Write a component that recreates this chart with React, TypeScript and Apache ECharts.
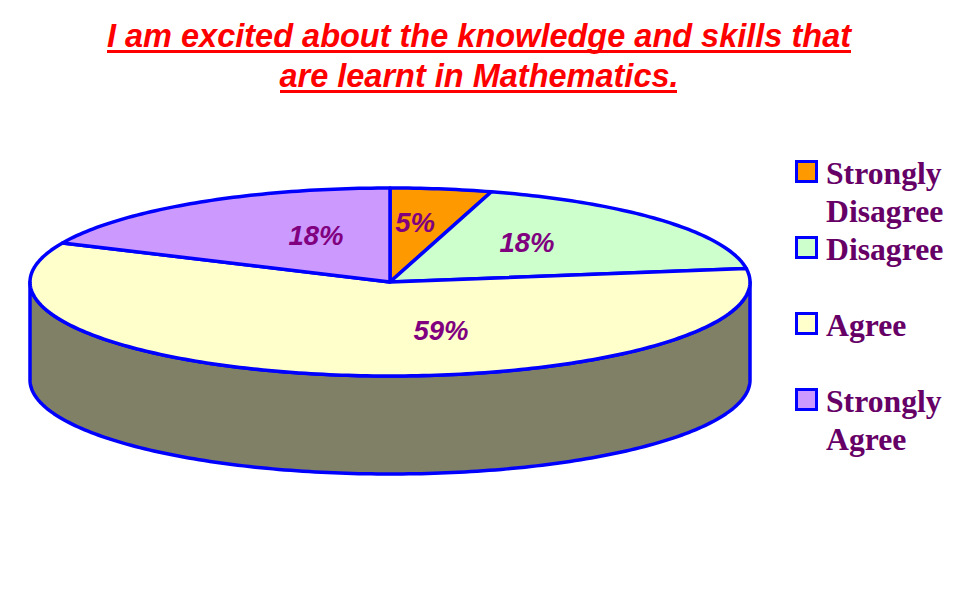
import React, { useEffect, useRef } from "react";
import * as echarts from "echarts";

const titleText = "I am excited about the knowledge and skills that\nare learnt in Mathematics.";
const categories = ["Strongly\nDisagree", "Disagree", "Agree", "Strongly\nAgree"];
const counts = [1, 4, 13, 4];
const percentLabels = ["5%", "18%", "59%", "18%"];
const sliceColors = ["#FF9900", "#CCFFCC", "#FFFFCC", "#CC99FF"];
const sideColors = ["#804D00", "#668066", "#808066", "#664D80"];

const CX = 390, CY = 282, RX = 360, RY = 94, DEPTH = 98;
const BLUE = "#0000FF";
const total = counts.reduce((a, b) => a + b, 0);
const starts = counts.map((_, i) => counts.slice(0, i).reduce((a, b) => a + b, 0) / total);
const labelOffsets = [[25, -60], [137, -40], [51, 48], [-74, -47]];

const pt = (f: number, dy = 0) => {
  const t = f * Math.PI * 2;
  return [CX + RX * Math.sin(t), CY - RY * Math.cos(t) + dy];
};
const arc = (a: number, b: number, dy = 0) => {
  const out: number[][] = [];
  const n = Math.max(2, Math.ceil((b - a) * 360));
  for (let i = 0; i <= n; i++) out.push(pt(a + ((b - a) * i) / n, dy));
  return out;
};

const renderSide = (_: any, api: any) => {
  const i = api.value(0) as number;
  const a = Math.max(starts[i], 0.25);
  const b = Math.min(starts[i] + counts[i] / total, 0.75);
  if (b <= a) return { type: "group", children: [] };
  return {
    type: "polygon",
    shape: { points: [...arc(a, b), ...arc(a, b, DEPTH).reverse()] },
    style: { fill: sideColors[i], stroke: BLUE, lineWidth: 3.5, lineJoin: "round" },
  };
};

const renderTop = (_: any, api: any) => {
  const i = api.value(0) as number;
  const a = starts[i];
  const b = a + (api.value(1) as number) / total;
  return {
    type: "polygon",
    shape: { points: [[CX, CY], ...arc(a, b)] },
    style: { fill: sliceColors[i], stroke: BLUE, lineWidth: 3.5, lineJoin: "round" },
  };
};

const renderLabel = (_: any, api: any) => {
  const i = api.value(0) as number;
  return {
    type: "text",
    x: CX + labelOffsets[i][0],
    y: CY + labelOffsets[i][1],
    style: {
      text: percentLabels[i],
      fill: "#800080",
      font: "italic bold 27.5px 'Liberation Sans'",
      textAlign: "center",
      textVerticalAlign: "middle",
    },
  };
};

const seriesData = counts.map((v, i) => [i, v]);

export default function App() {
  const ref = useRef<HTMLDivElement>(null);
  useEffect(() => {
    document.body.style.margin = "0";
    const chart = echarts.init(ref.current!, undefined, { renderer: "svg" });
    chart.setOption({
      animation: false,
      backgroundColor: "#FFFFFF",
      title: {
        text: titleText,
        left: 479,
        top: 16,
        padding: 0,
        textAlign: "center",
        textStyle: {
          fontFamily: "'Liberation Sans'",
          fontSize: 32.5,
          fontStyle: "italic",
          fontWeight: "bold",
          color: "#FF0000",
          lineHeight: 40,
        },
      },
      series: [
        { type: "custom", coordinateSystem: "none", silent: true, data: seriesData, renderItem: renderSide },
        { type: "custom", coordinateSystem: "none", silent: true, data: seriesData, renderItem: renderTop },
        { type: "custom", coordinateSystem: "none", silent: true, data: seriesData, renderItem: renderLabel },
      ],
      graphic: [
        { type: "rect", shape: { x: 107, y: 50, width: 744, height: 3 }, style: { fill: "#FF0000" } },
        { type: "rect", shape: { x: 280, y: 90, width: 397, height: 3 }, style: { fill: "#FF0000" } },
        ...categories.flatMap((name, i) => [
          {
            type: "rect",
            shape: { x: 796.5, y: 161.5 + 76 * i, width: 20, height: 20 },
            style: { fill: sliceColors[i], stroke: BLUE, lineWidth: 3 },
          },
          {
            type: "text",
            x: 826,
            y: 154 + 76 * i,
            style: {
              text: name,
              fill: "#660066",
              font: "bold 31.7px 'Liberation Serif'",
              lineHeight: 38,
              textVerticalAlign: "top",
            },
          },
        ]),
      ],
    });
    return () => chart.dispose();
  }, []);
  return <div ref={ref} style={{ position: "absolute", left: 0, top: 0, width: 977, height: 600 }} />;
}
